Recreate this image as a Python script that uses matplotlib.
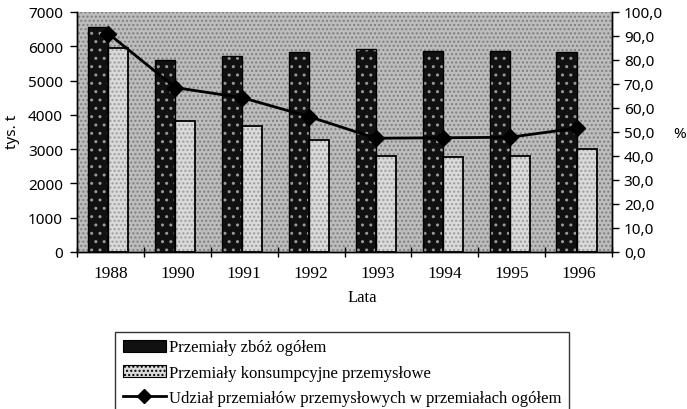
import numpy as np
import matplotlib
matplotlib.use("Agg")
import matplotlib.pyplot as plt
from matplotlib.patches import Rectangle, Patch
from matplotlib.lines import Line2D
from matplotlib.ticker import FixedLocator, FuncFormatter

years = ["1988", "1990", "1991", "1992", "1993", "1994", "1995", "1996"]
total = [6550, 5600, 5720, 5820, 5920, 5850, 5850, 5820]       # Przemialy zboz ogolem
industrial = [5950, 3830, 3670, 3270, 2800, 2780, 2800, 3000]  # konsumpcyjne przemyslowe
share = [91.0, 68.5, 64.3, 56.4, 47.4, 47.6, 47.8, 51.6]       # udzial, %

SERIF = "Liberation Serif"
SANS = "Noto Sans"

fig = plt.figure(figsize=(6.87, 4.10), dpi=100)
ax = fig.add_axes([77/687, 1-253/410, (612-77)/687, (253-13)/410])
ax2 = ax.twinx()

x = np.arange(len(years))
w = 0.30

# stippled background
ax.set_facecolor("#bdbdbd")
ax.add_patch(Rectangle((0, 0), 1, 1, transform=ax.transAxes, facecolor="#bdbdbd",
                       edgecolor="#7e7e7e", hatch="....", lw=0, zorder=0))

# dark bars
ax.bar(x - w/2 - 0.03, total, w, facecolor="#111111", edgecolor="#9a9a9a", hatch="..", lw=0, zorder=2)
ax.bar(x - w/2 - 0.03, total, w, fill=False, edgecolor="black", lw=1, zorder=3)
# light bars
ax.bar(x + w/2 - 0.03, industrial, w, facecolor="#dadada", edgecolor="#9c9c9c", hatch="....", lw=0, zorder=2)
ax.bar(x + w/2 - 0.03, industrial, w, fill=False, edgecolor="black", lw=1.3, zorder=3)

ax2.plot(x - 0.03, share, color="black", lw=2, marker="D", ms=8, zorder=5)

ax.set_xlim(-0.5, len(years) - 0.5)
ax.set_ylim(0, 7000)
ax2.set_ylim(0, 100)
ax.set_yticks(np.arange(0, 7001, 1000))
ax2.set_yticks(np.arange(0, 101, 10))
ax2.yaxis.set_major_formatter(FuncFormatter(lambda v, p: f"{v:.1f}".replace(".", ",")))

ax.set_xticks(x)
ax.set_xticklabels(years, fontfamily=SERIF, fontsize=12.5)
ax.xaxis.set_minor_locator(FixedLocator(np.arange(-0.5, len(years), 1.0)))
ax.tick_params(axis="x", which="major", length=0, pad=9)
ax.tick_params(axis="x", which="minor", length=7, direction="inout", width=1)
ax.tick_params(axis="y", length=5, width=1, direction="out", labelsize=11, pad=5)
ax2.tick_params(axis="y", length=5, width=1, direction="out", labelsize=11)
for lab in ax.get_yticklabels() + ax2.get_yticklabels():
    lab.set_fontfamily(SANS)

for a in (ax, ax2):
    a.spines["top"].set_visible(False)
    for s in ("left", "right", "bottom"):
        a.spines[s].set_linewidth(1)

fig.text(12/687, 1-132/410, "tys. t", rotation=90, ha="center", va="center",
         fontfamily=SANS, fontsize=11)
fig.text(680/687, 1-134/410, "%", ha="center", va="center", fontfamily=SANS, fontsize=11)
fig.text(362/687, 1-298/410, "Lata", ha="center", va="center", fontfamily=SERIF, fontsize=12)

handles = [
    Patch(facecolor="#111111", edgecolor="black", lw=0.8),
    Patch(facecolor="#dadada", edgecolor="black", hatch="....", lw=0.8),
    Line2D([], [], color="black", lw=2, marker="D", ms=7),
]
labels = ["Przemiały zbóż ogółem",
          "Przemiały konsumpcyjne przemysłowe",
          "Udział przemiałów przemysłowych w przemiałach ogółem"]
leg = fig.legend(handles, labels, loc="upper left", bbox_to_anchor=(115/687, 1-333/410),
                 prop={"family": SERIF, "size": 12}, frameon=True, fancybox=False,
                 edgecolor="black", handlelength=2.6, handletextpad=0.2,
                 labelspacing=0.55, borderpad=0.45, borderaxespad=0)
leg.get_frame().set_linewidth(1)

fig.savefig("out.png", dpi=100)
